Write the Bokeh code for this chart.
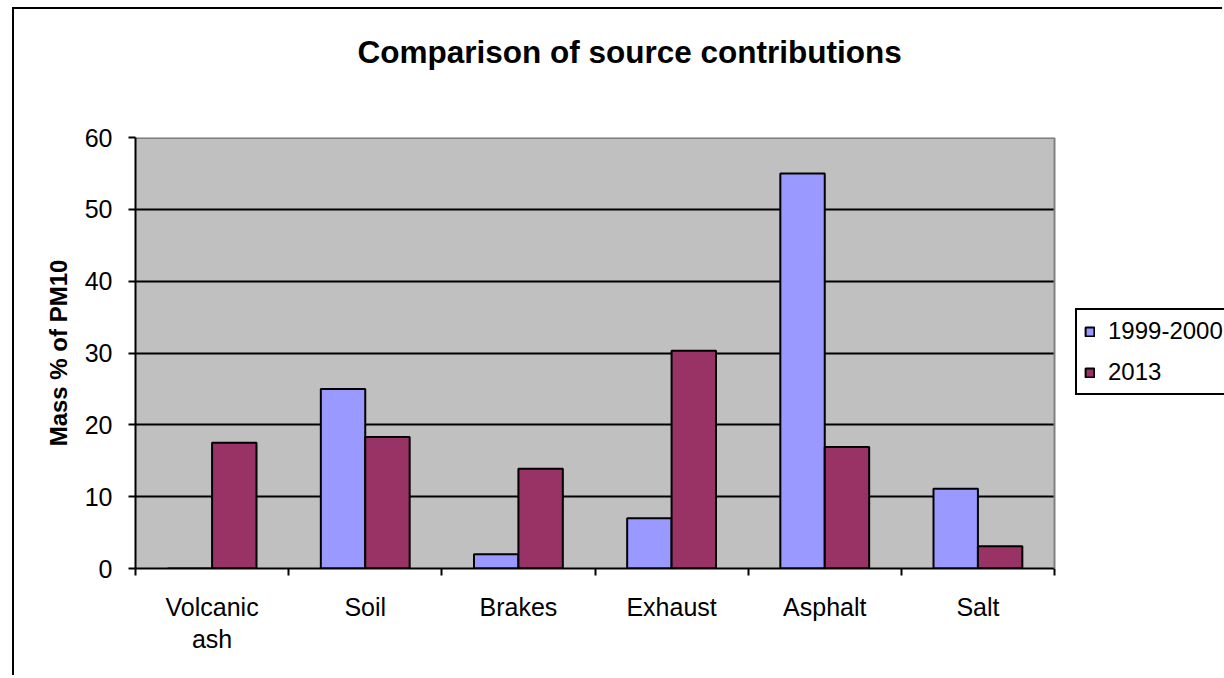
from bokeh.plotting import figure
from bokeh.models import (Range1d, FixedTicker, Legend, LegendItem, BoxAnnotation,
                          Span, Title)
from bokeh.embed import file_html
from bokeh.resources import INLINE

categories = ["Volcanic ash", "Soil", "Brakes", "Exhaust", "Asphalt", "Salt"]
tick_labels = ["Volcanic\nash", "Soil", "Brakes", "Exhaust", "Asphalt", "Salt"]
series_names = ["1999-2000", "2013"]
values_1999 = [0, 25, 2, 7, 55, 11.1]
values_2013 = [17.5, 18.3, 13.9, 30.3, 16.9, 3.1]
y_ticks = [0, 10, 20, 30, 40, 50, 60]
y_max = 60

FONT = "Liberation Sans"
BAR_W = 0.29

W, H = 1210, 668
LEFT, TOP, BOTTOM = 121, 127, 109
PLOT_AREA_W = 919                    # width in px of the grey plotting area
frame_w = W - LEFT
n = len(categories)
x_end = n * frame_w / PLOT_AREA_W    # frame extends to the right edge (legend lives there)

p = figure(width=W, height=H, output_backend="svg", toolbar_location=None,
           x_range=Range1d(0, x_end), y_range=Range1d(0, y_max),
           min_border_left=LEFT, min_border_right=0, min_border_top=TOP,
           min_border_bottom=BOTTOM)
p.styles = {"border-left": "2px solid black", "border-top": "2px solid black",
            "margin-left": "12px", "margin-top": "7px"}

p.background_fill_color = "white"
p.border_fill_color = "white"
p.outline_line_color = None

# grey plotting area
p.add_layout(BoxAnnotation(left=0, right=n, bottom=0, top=y_max, fill_color="#C0C0C0",
                           fill_alpha=1, line_color=None, level="image"))

centers = [i + 0.5 for i in range(n)]
x1 = [c - BAR_W / 2 for c in centers]
x2 = [c + BAR_W / 2 for c in centers]

r1 = p.vbar(x=x1, top=values_1999, bottom=0, width=BAR_W, fill_color="#9999FF",
            line_color="black", line_width=2)
r2 = p.vbar(x=x2, top=values_2013, bottom=0, width=BAR_W, fill_color="#993366",
            line_color="black", line_width=2)

# grey border of the plotting area (top)
p.segment(x0=[0], y0=[y_max], x1=[n], y1=[y_max], line_color="#808080", line_width=3)

# white area right of the plotting area (hides grid lines there), then right border
p.add_layout(BoxAnnotation(left=n, fill_color="white", fill_alpha=1, line_color=None))
p.add_layout(Span(location=n, dimension="height", line_color="#808080", line_width=2))

# x axis: labels at centers, tick marks between categories
p.xaxis.bounds = (0, n)
p.xaxis.ticker = FixedTicker(ticks=centers, minor_ticks=list(range(n + 1)))
p.xaxis.major_label_overrides = {c: lab for c, lab in zip(centers, tick_labels)}
p.xaxis.major_tick_line_color = None
p.xaxis.major_tick_out = 0
p.xaxis.major_tick_in = 0
p.xaxis.minor_tick_line_color = "black"
p.xaxis.minor_tick_line_width = 2
p.xaxis.minor_tick_out = 7
p.xaxis.minor_tick_in = 0
p.xaxis.major_label_standoff = 17
p.xaxis.axis_line_color = "black"
p.xaxis.axis_line_width = 2
p.xaxis.major_label_text_font = FONT
p.xaxis.major_label_text_font_size = "25px"
p.xaxis.major_label_text_color = "black"
p.xaxis.major_label_text_line_height = 1.15
p.xgrid.visible = False

p.yaxis.ticker = FixedTicker(ticks=y_ticks)
p.yaxis.minor_tick_line_color = None
p.yaxis.major_tick_line_color = "black"
p.yaxis.major_tick_line_width = 2
p.yaxis.major_tick_out = 7
p.yaxis.major_tick_in = 0
p.yaxis.major_label_standoff = 16
p.yaxis.axis_line_color = "black"
p.yaxis.axis_line_width = 2
p.yaxis.major_label_text_font = FONT
p.yaxis.major_label_text_font_size = "25px"
p.yaxis.major_label_text_color = "black"
p.yaxis.axis_label = "Mass % of PM10"
p.yaxis.axis_label_text_font = FONT
p.yaxis.axis_label_text_font_size = "24px"
p.yaxis.axis_label_text_font_style = "bold"
p.yaxis.axis_label_text_color = "black"
p.yaxis.axis_label_standoff = 10

p.ygrid.ticker = FixedTicker(ticks=[10, 20, 30, 40, 50])
p.ygrid.grid_line_color = "black"
p.ygrid.grid_line_width = 2

# titles: a spacer next to the frame, then the real title above it
spacer = Title(text=" ", text_font_size="10px", standoff=32)
p.add_layout(spacer, "above")
main_title = Title(text="Comparison of source contributions", align="left", offset=222,
                   text_font=FONT, text_font_size="31.5px", text_font_style="bold",
                   text_color="black", standoff=45)
p.add_layout(main_title, "above")

legend = Legend(items=[LegendItem(label=series_names[0], renderers=[r1]),
                       LegendItem(label=series_names[1], renderers=[r2])],
                location=(940, 173))
legend.border_line_color = "black"
legend.border_line_alpha = 1
legend.border_line_width = 2
legend.background_fill_color = "white"
legend.background_fill_alpha = 1
legend.label_text_font = FONT
legend.label_text_font_size = "24px"
legend.label_text_color = "black"
legend.label_height = 28
legend.glyph_width = 11
legend.glyph_height = 11
legend.label_standoff = 13
legend.padding = 7
legend.spacing = 13
legend.margin = 0
p.add_layout(legend, "center")

open("out.html", "w").write(file_html(p, INLINE))
